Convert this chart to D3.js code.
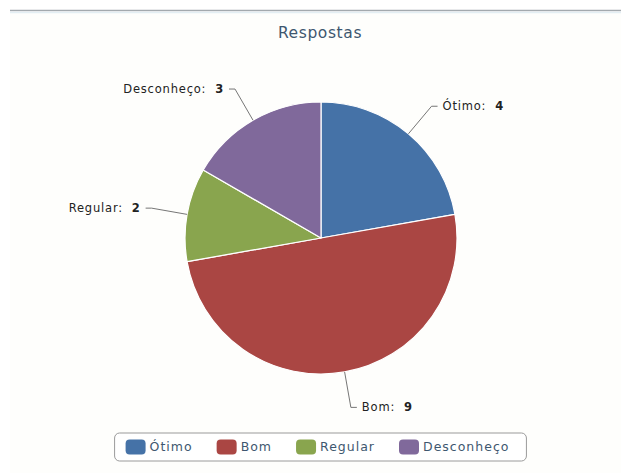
<!DOCTYPE html>
<html><head><meta charset="utf-8">
<script src="https://cdn.jsdelivr.net/npm/d3@7/dist/d3.min.js"></script>
<style>
html,body{margin:0;padding:0;background:#fff;}
svg{display:block;}
text{font-family:"DejaVu Sans",Verdana,sans-serif;}
</style></head>
<body>
<svg id="chart" width="621" height="473"></svg>
<script>
const title = "Respostas";
const categories = ["Ótimo", "Bom", "Regular", "Desconheço"];
const values = [4, 9, 2, 3];
const colors = ["#4572A7", "#AA4643", "#89A54E", "#80699B"];

const W = 621, H = 473;
const cx = 321, cy = 238, r = 136, rLabel = 172;
const svg = d3.select("#chart");

// frame background and top rule
svg.append("rect").attr("x", 10).attr("y", 12).attr("width", W - 10).attr("height", H - 12).attr("fill", "#fefefc");
svg.append("line").attr("x1", 10).attr("x2", W).attr("y1", 10.5).attr("y2", 10.5)
  .attr("stroke", "#a3a9ae").attr("stroke-width", 1.6);
svg.append("line").attr("x1", 10).attr("x2", W).attr("y1", 12.5).attr("y2", 12.5)
  .attr("stroke", "#e3eef3").attr("stroke-width", 1.5);

// title
svg.append("text").attr("x", 320).attr("y", 38).attr("text-anchor", "middle")
  .attr("fill", "#3E576F").attr("font-size", 15.5).attr("letter-spacing", 0.6).text(title);

const color = d3.scaleOrdinal().domain(categories).range(colors);
const data = categories.map((c, i) => ({ name: c, value: values[i] }));
const pie = d3.pie().sort(null).value(d => d.value);
const arcs = pie(data);
const arc = d3.arc().innerRadius(0).outerRadius(r);

const g = svg.append("g").attr("transform", `translate(${cx},${cy})`);
g.selectAll("path.slice").data(arcs).enter().append("path")
  .attr("class", "slice")
  .attr("d", arc)
  .attr("fill", d => color(d.data.name))
  .attr("stroke", "#fff").attr("stroke-width", 1.2).attr("stroke-linejoin", "round");

// labels with connectors
arcs.forEach(d => {
  const a = (d.startAngle + d.endAngle) / 2;
  const ex = Math.sin(a) * r, ey = -Math.cos(a) * r;
  const bx = Math.sin(a) * rLabel, by = -Math.cos(a) * rLabel;
  const right = Math.sin(a) >= 0;
  const tx = bx + (right ? 6 : -6);
  g.append("path")
    .attr("d", `M${ex},${ey}L${bx},${by}L${tx},${by}`)
    .attr("fill", "none").attr("stroke", "#666").attr("stroke-width", 0.9);
  const t = g.append("text")
    .attr("x", tx + (right ? 5 : -5)).attr("y", by)
    .attr("dy", "0.35em")
    .attr("text-anchor", right ? "start" : "end")
    .attr("font-size", 11.5).attr("letter-spacing", 0.8).attr("fill", "#222")
    .style("white-space", "pre");
  t.append("tspan").text(d.data.name + ":  ");
  t.append("tspan").attr("font-weight", "bold").text(d.data.value);
});

// legend
const lg = svg.append("g");
const items = lg.selectAll("g.item").data(categories).enter().append("g").attr("class", "item");
items.append("rect").attr("width", 20).attr("height", 15).attr("rx", 4).attr("y", -7.5)
  .attr("fill", d => color(d));
items.append("text").attr("x", 24).attr("dy", "0.35em").attr("font-size", 12.5)
  .attr("letter-spacing", 1.0).attr("fill", "#3E576F").text(d => d);
let x = 0;
const gap = 24;
items.each(function () {
  d3.select(this).attr("transform", `translate(${x},0)`);
  const tw = d3.select(this).select("text").node().getComputedTextLength();
  x += 24 + tw + gap;
});
const totalW = x - gap;
const pad = 11;
const boxW = totalW + pad * 2 + 6, boxH = 28;
const boxX = 320.5 - boxW / 2, ly = 447;
lg.insert("rect", ":first-child")
  .attr("x", -pad).attr("y", -boxH / 2).attr("width", boxW).attr("height", boxH).attr("rx", 5)
  .attr("fill", "#fff").attr("stroke", "#9a9a9a").attr("stroke-width", 1);
lg.attr("transform", `translate(${boxX + pad},${ly})`);
</script>
</body></html>
